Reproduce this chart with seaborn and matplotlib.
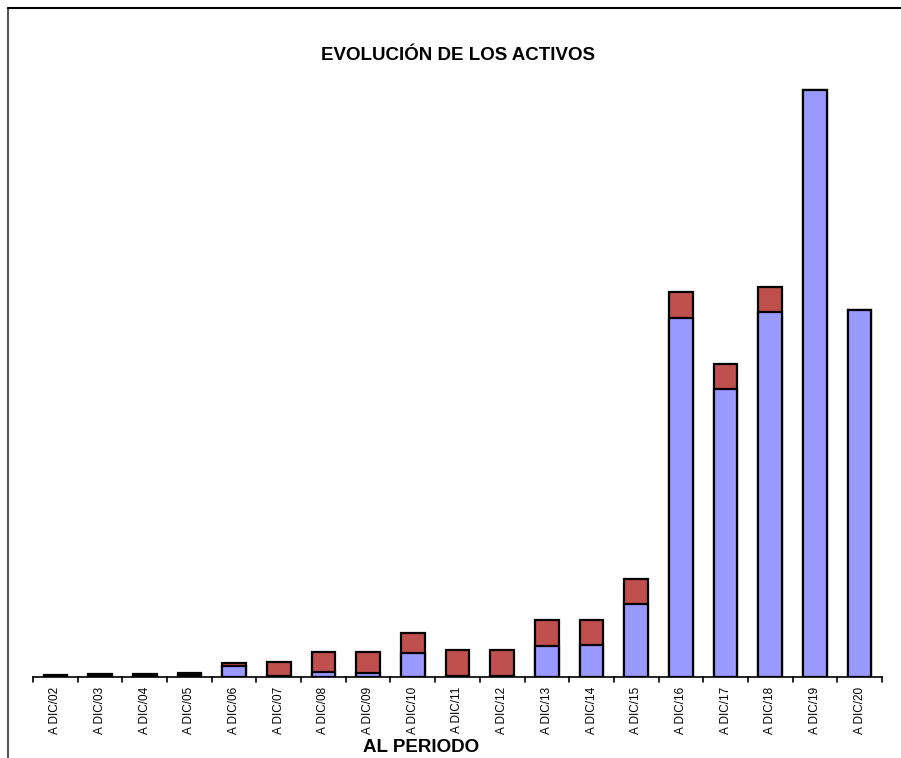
import pandas as pd
import seaborn as sns
import matplotlib.pyplot as plt
from matplotlib.lines import Line2D

# periodos y valores (escala arbitraria)
periodos = ['A DIC/%02d' % y for y in range(2, 21)]
azul = [1, 1, 1.5, 2, 11, 1, 5, 4, 24, 1, 1, 31, 32, 73, 359, 288, 365, 587, 367]
rojo = [1.5, 2, 2, 2, 3, 14, 20, 21, 20, 26, 26, 26, 25, 25, 26, 25, 25, 0, 0]

df = pd.DataFrame({'periodo': periodos, 'azul': azul, 'rojo': rojo})
df['total'] = df['azul'] + df['rojo']

sns.set_style('white')
plt.rcParams['font.family'] = ['Liberation Sans', 'DejaVu Sans']
plt.rcParams['text.color'] = 'black'
plt.rcParams['xtick.color'] = 'black'

W, H = 901, 758
fig = plt.figure(figsize=(W / 100, H / 100), dpi=100)
ax = fig.add_axes([33 / W, 81 / H, 849 / W, 600 / H])

# total en rojo, luego la parte azul encima
sns.barplot(data=df, x='periodo', y='total', color='#C0504D', saturation=1,
            width=0.53, edgecolor='black', linewidth=1.6, ax=ax)
sns.barplot(data=df, x='periodo', y='azul', color='#9999FF', saturation=1,
            width=0.53, edgecolor='black', linewidth=1.6, ax=ax)

ax.set_xlim(-0.5, len(periodos) - 0.5)
ax.set_ylim(0, 600)
ax.set_yticks([])
ax.set_ylabel('')
ax.set_xlabel('')
for s in ['top', 'right', 'left']:
    ax.spines[s].set_visible(False)
ax.spines['bottom'].set_color('black')
ax.spines['bottom'].set_linewidth(1.2)

# etiquetas en el centro, marcas en los bordes de categoria
ax.set_xticks(range(len(periodos)))
ax.set_xticklabels(periodos, rotation=90, fontsize=8.5, color='black')
ax.tick_params(axis='x', length=0, pad=7)
for i in range(len(periodos) + 1):
    ax.plot([i - 0.5, i - 0.5], [0, -0.008], color='black', lw=1.2,
            transform=ax.get_xaxis_transform(), clip_on=False)

fig.text(458 / W, 1 - 55 / H, 'EVOLUCIÓN DE LOS ACTIVOS', ha='center', va='center',
         fontsize=13.5, fontweight='bold', color='black')
fig.text(421 / W, 1 - 747 / H, 'AL PERIODO', ha='center', va='center',
         fontsize=13.5, fontweight='bold', color='black')

# marco del grafico
fig.add_artist(Line2D([8 / W, 8 / W], [0, 1 - 8 / H], color='#555555', lw=1.5))
fig.add_artist(Line2D([8 / W, 1], [1 - 8 / H, 1 - 8 / H], color='black', lw=1.5))

fig.savefig('out.png', dpi=100)
